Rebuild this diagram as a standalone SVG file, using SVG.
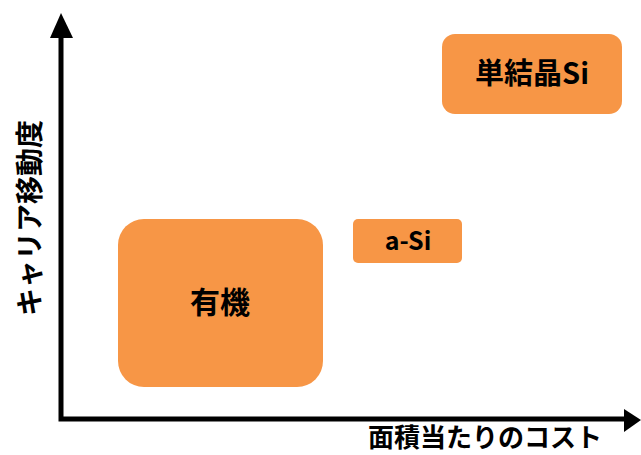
<svg xmlns="http://www.w3.org/2000/svg" width="641" height="455" viewBox="0 0 641 455">
<style>
.box{fill:#F79646;}
.lbl{font-family:"Noto Sans CJK JP","Noto Sans",sans-serif;font-weight:bold;fill:#000;text-anchor:middle;}
.ax{stroke:#000;stroke-width:5;fill:none;}
</style>
<rect width="641" height="455" fill="#fff"/>
<g id="connectors">
<polyline class="ax" points="61,36 61,419 626,419"/>
<polygon points="61,13 50,38 73,38" fill="#000"/>
<polygon points="641,420 624,409 624,432" fill="#000"/>
</g>
<g id="ylabel">
<text class="lbl" font-size="28" transform="translate(40,218) rotate(-90)">キャリア移動度</text>
</g>
<g id="xlabel">
<text class="lbl" font-size="26" x="485" y="447">面積当たりのコスト</text>
</g>
<g id="node-si">
<rect class="box" x="442" y="34" width="180" height="80" rx="13"/>
<text class="lbl" font-size="29" x="532" y="84">単結晶Si</text>
</g>
<g id="node-asi">
<rect class="box" x="353" y="219" width="109" height="44" rx="5"/>
<text class="lbl" font-size="25" x="408" y="250">a-Si</text>
</g>
<g id="node-organic">
<rect class="box" x="118" y="219" width="205" height="168" rx="26"/>
<text class="lbl" font-size="30" x="220" y="313">有機</text>
</g>
</svg>
